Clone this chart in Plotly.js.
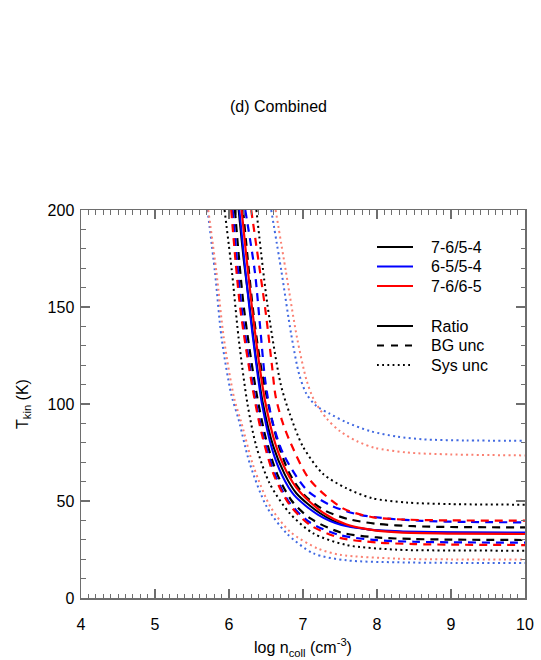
<!DOCTYPE html>
<html>
<head>
<meta charset="utf-8">
<script src="https://cdn.plot.ly/plotly-3.0.1.min.js"></script>
<style>
  body { margin: 0; background: #fff; }
  #chart { width: 541px; height: 660px; }
</style>
</head>
<body>
<div id="chart"></div>
<script>
// x = log n_coll, T = kinetic temperature (K)

// ratio curves (solid)
var ratio76_54_x = [6.13, 6.20, 6.28, 6.37, 6.46, 6.60, 6.75, 6.91, 7.23, 7.54, 7.91, 8.30, 9.00, 10.0];
var ratio76_54_T = [200, 174, 150, 122, 100, 78, 64, 54, 43.7, 37.8, 35.2, 34.2, 33.6, 33.4];
var ratio65_54_x = [6.14, 6.21, 6.28, 6.37, 6.45, 6.58, 6.72, 6.88, 7.20, 7.52, 7.90, 8.30, 9.00, 10.0];
var ratio65_54_T = [200, 173, 148, 120, 99, 77, 63, 53, 43, 37.6, 35.3, 34.4, 33.9, 33.7];
var ratio76_65_x = [6.17, 6.24, 6.31, 6.40, 6.49, 6.63, 6.78, 6.95, 7.27, 7.58, 7.95, 8.30, 9.00, 10.0];
var ratio76_65_T = [200, 174, 150, 123, 101, 79, 65, 55, 44, 38, 35, 33.8, 33.2, 33.0];

// background uncertainty (dashed), upper and lower
var bgHi76_54_x = [6.19, 6.32, 6.42, 6.52, 6.66, 6.82, 7.02, 7.30, 7.60, 8.00, 8.50, 9.00, 10.0];
var bgHi76_54_T = [200, 150, 122, 102, 80, 64, 53, 45, 40.8, 38.2, 37.0, 36.6, 36.4];
var bgHi65_54_x = [6.22, 6.35, 6.42, 6.49, 6.58, 6.73, 7.05, 7.39, 7.75, 8.13, 8.60, 9.20, 10.0];
var bgHi65_54_T = [200, 168, 140, 112, 92, 74.6, 55.7, 47.5, 43.0, 41.0, 39.8, 39.2, 39.0];
var bgHi76_65_x = [6.30, 6.42, 6.50, 6.58, 6.63, 6.72, 6.82, 7.09, 7.54, 7.95, 8.40, 9.00, 10.0];
var bgHi76_65_T = [200, 168, 146, 120, 104, 91, 81, 61, 46.2, 41.6, 40.4, 40.0, 39.9];
var bgLo76_54_x = [6.08, 6.20, 6.37, 6.50, 6.65, 6.85, 7.10, 7.50, 8.00, 8.50, 9.00, 10.0];
var bgLo76_54_T = [200, 150, 106, 82, 64, 50, 41, 33.9, 31.2, 30.4, 30.1, 29.9];
var bgLo65_54_x = [6.05, 6.17, 6.33, 6.46, 6.62, 6.82, 7.10, 7.50, 8.00, 8.50, 9.00, 10.0];
var bgLo65_54_T = [200, 150, 108, 84, 64, 49, 38.8, 32.4, 29.8, 29.0, 28.7, 28.5];
var bgLo76_65_x = [6.03, 6.15, 6.31, 6.44, 6.60, 6.82, 7.10, 7.50, 8.00, 8.50, 9.00, 10.0];
var bgLo76_65_T = [200, 150, 110, 85, 64, 48, 37.5, 31.0, 28.6, 27.8, 27.5, 27.3];

// systematic uncertainty (dotted), upper and lower
var sysHi76_54_x = [6.37, 6.52, 6.70, 6.82, 7.00, 7.27, 7.59, 7.93, 8.40, 9.00, 10.0];
var sysHi76_54_T = [200, 151, 110, 95, 78, 64, 56.5, 51.5, 49.2, 48.4, 48.1];
var sysHi65_54_x = [6.57, 6.71, 6.84, 6.95, 7.05, 7.18, 7.36, 7.59, 7.91, 8.27, 8.62, 9.20, 10.0];
var sysHi65_54_T = [200, 168, 136, 115, 105, 99, 95, 90.5, 86, 83.2, 81.8, 81.2, 81.1];
var sysHi76_65_x = [6.63, 6.77, 6.92, 7.05, 7.15, 7.32, 7.50, 7.73, 7.97, 8.40, 9.00, 10.0];
var sysHi76_65_T = [200, 168, 134, 112, 102, 92.5, 86, 80.8, 77.4, 75.0, 74.0, 73.5];
var sysLo76_54_x = [5.94, 6.04, 6.13, 6.25, 6.37, 6.55, 6.82, 7.14, 7.59, 8.27, 9.00, 10.0];
var sysLo76_54_T = [200, 168, 134, 100, 78, 59, 43.7, 33.3, 27.3, 24.9, 24.5, 24.4];
var sysLo65_54_x = [5.71, 5.81, 5.90, 6.03, 6.13, 6.28, 6.51, 6.78, 7.14, 7.59, 8.27, 9.00, 10.0];
var sysLo65_54_T = [200, 168, 134, 105, 92, 69.4, 47, 33.3, 23, 19.4, 18.4, 18.1, 18.0];
var sysLo76_65_x = [5.72, 5.83, 5.93, 6.07, 6.17, 6.33, 6.56, 6.83, 7.20, 7.50, 8.27, 9.00, 10.0];
var sysLo76_65_T = [200, 168, 134, 103, 90, 68, 47, 34, 25.5, 22.3, 20.3, 19.9, 19.8];

var ratioNames = ['7-6/5-4', '6-5/5-4', '7-6/6-5'];
var styleNames = ['Ratio', 'BG unc', 'Sys unc'];

var black = 'rgb(0,0,0)';
var blue = 'rgb(0,0,255)';
var red = 'rgb(255,0,0)';
var blueSys = 'rgb(65,105,225)';
var redSys = 'rgb(250,128,114)';

var dashBG = '8px,6px';
var dotSys = '2px,3.3px';

function curve(x, y, color, dash, width, name) {
    return {
        x: x, y: y,
        type: 'scatter', mode: 'lines',
        name: name || '',
        showlegend: false,
        hoverinfo: 'skip',
        line: {color: color, width: width, dash: dash, shape: 'spline', smoothing: 0.8}
    };
}

var data = [
    // dotted
    curve(sysLo76_54_x, sysLo76_54_T, black, dotSys, 2),
    curve(sysHi76_54_x, sysHi76_54_T, black, dotSys, 2),
    curve(sysLo65_54_x, sysLo65_54_T, blueSys, dotSys, 2),
    curve(sysHi65_54_x, sysHi65_54_T, blueSys, dotSys, 2),
    curve(sysLo76_65_x, sysLo76_65_T, redSys, dotSys, 2),
    curve(sysHi76_65_x, sysHi76_65_T, redSys, dotSys, 2),
    // dashed
    curve(bgLo76_54_x, bgLo76_54_T, black, dashBG, 2.2),
    curve(bgHi76_54_x, bgHi76_54_T, black, dashBG, 2.2),
    curve(bgLo65_54_x, bgLo65_54_T, blue, dashBG, 2.2),
    curve(bgHi65_54_x, bgHi65_54_T, blue, dashBG, 2.2),
    curve(bgLo76_65_x, bgLo76_65_T, red, dashBG, 2.2),
    curve(bgHi76_65_x, bgHi76_65_T, red, dashBG, 2.2),
    // solid
    curve(ratio76_54_x, ratio76_54_T, black, 'solid', 2, ratioNames[0]),
    curve(ratio65_54_x, ratio65_54_T, blue, 'solid', 2, ratioNames[1]),
    curve(ratio76_65_x, ratio76_65_T, red, 'solid', 2.2, ratioNames[2])
];

var axisColor = 'rgb(110,110,110)';
var font = {family: 'Liberation Sans, Arial, sans-serif', size: 16, color: 'black'};

// hand made legend, in pixels of the page turned into paper coords
var plotL = 81, plotR = 525, plotT = 210, plotB = 598;
function px(x) { return (x - plotL) / (plotR - plotL); }
function py(y) { return (plotB - y) / (plotB - plotT); }

var legendRows = [247, 266.5, 286, 326, 345.5, 365];
var legendText = ratioNames.concat(styleNames);
var legendColor = [black, blue, red, black, black, black];
var legendDash = ['solid', 'solid', 'solid', 'solid', '7px,7px', '1.8px,3.4px'];

var shapes = [];
var annotations = [];
for (var i = 0; i < legendRows.length; i++) {
    shapes.push({
        type: 'line', xref: 'paper', yref: 'paper',
        x0: px(377), x1: px(413), y0: py(legendRows[i]), y1: py(legendRows[i]),
        line: {color: legendColor[i], width: 2, dash: legendDash[i]}
    });
    annotations.push({
        text: legendText[i], xref: 'paper', yref: 'paper',
        x: px(429), y: py(legendRows[i]), xanchor: 'left', yanchor: 'middle',
        showarrow: false, font: font
    });
}

var layout = {
    width: 541,
    height: 660,
    margin: {l: 81, r: 16, t: 210, b: 62},
    paper_bgcolor: 'white',
    plot_bgcolor: 'white',
    font: font,
    title: {
        text: '(d) Combined',
        font: font,
        x: 278.5 / 541, xref: 'container', xanchor: 'center',
        y: 1 - 106.5 / 660, yref: 'container', yanchor: 'middle'
    },
    xaxis: {
        range: [4, 10],
        dtick: 1,
        showgrid: false,
        zeroline: false,
        showline: true, linecolor: axisColor, linewidth: 1.5,
        mirror: 'ticks',
        ticks: 'inside', ticklen: 9, tickcolor: axisColor, tickwidth: 1.2,
        minor: {dtick: 0.1, ticks: 'inside', ticklen: 4.5, tickcolor: axisColor, tickwidth: 1},
        ticklabelstandoff: 11,
        tickfont: font,
        title: {text: 'log n<sub>coll</sub> (cm<sup>-3</sup>)', font: font, standoff: 10},
        fixedrange: true
    },
    yaxis: {
        range: [0, 200],
        dtick: 50,
        showgrid: false,
        zeroline: false,
        showline: true, linecolor: axisColor, linewidth: 1.5,
        mirror: 'ticks',
        ticks: 'inside', ticklen: 9, tickcolor: axisColor, tickwidth: 1.2,
        minor: {dtick: 10, ticks: 'inside', ticklen: 4.5, tickcolor: axisColor, tickwidth: 1},
        ticklabelstandoff: 2,
        tickfont: font,
        title: {text: 'T<sub>kin</sub> (K)', font: font, standoff: 15},
        fixedrange: true
    },
    showlegend: false,
    shapes: shapes,
    annotations: annotations
};

Plotly.newPlot('chart', data, layout, {displayModeBar: false, staticPlot: true});
</script>
</body>
</html>
